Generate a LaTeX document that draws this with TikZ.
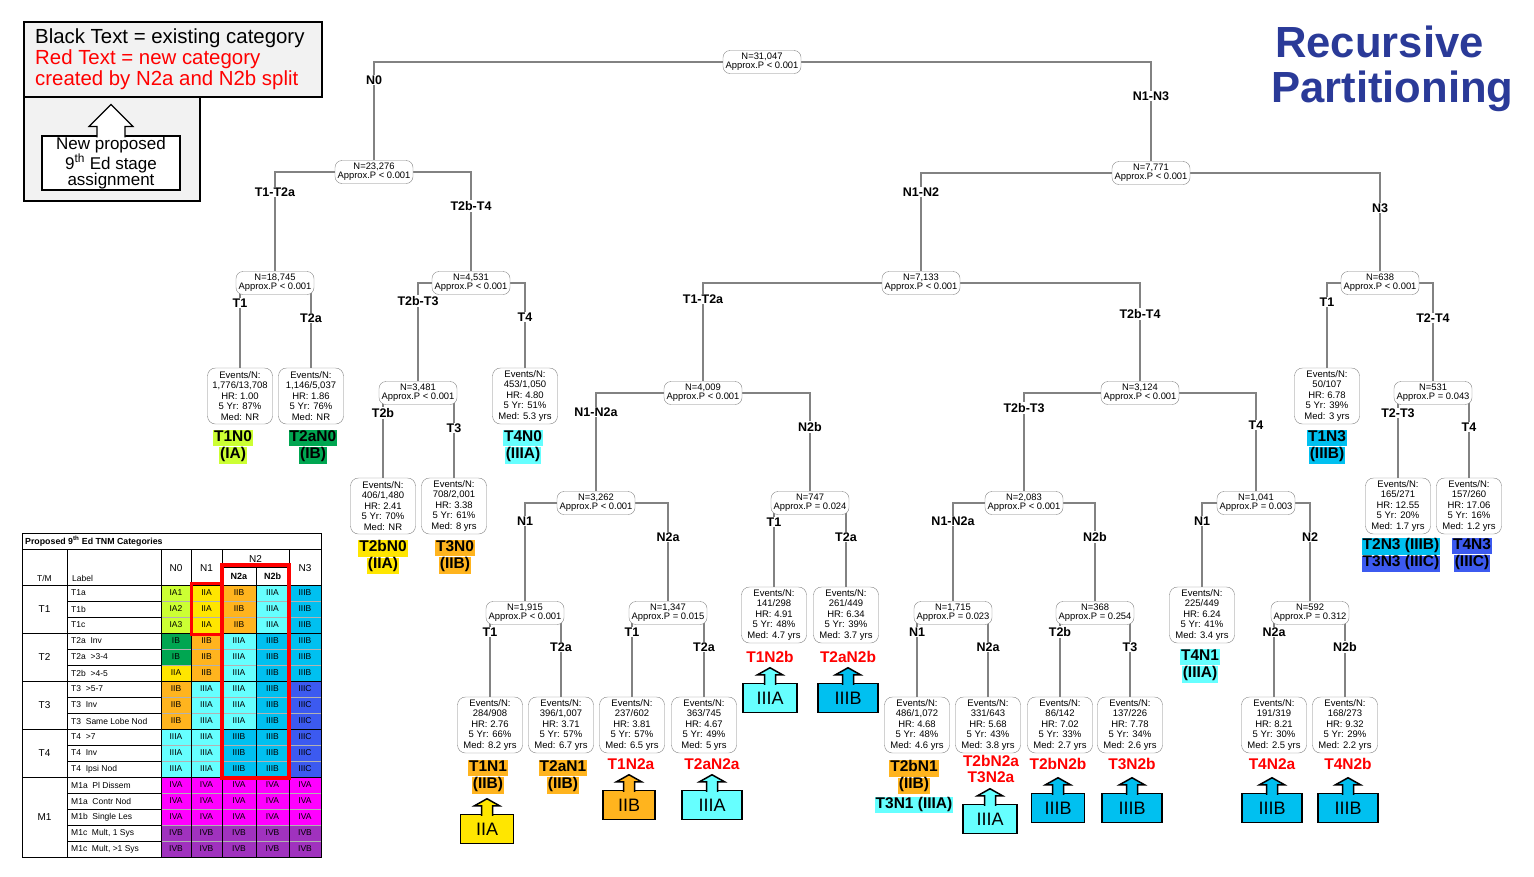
\documentclass[tikz,border=0pt]{standalone}
\usepackage{fontspec}
\setmainfont{Liberation Sans}
\usetikzlibrary{backgrounds,calc}

\definecolor{IA1}{RGB}{204,255,51}
\colorlet{IA2}{IA1}
\colorlet{IA3}{IA1}
\definecolor{IB}{RGB}{0,166,81}
\definecolor{IIA}{RGB}{255,230,0}
\definecolor{IIB}{RGB}{255,180,30}
\definecolor{IIIA}{RGB}{102,255,255}
\definecolor{IIIB}{RGB}{0,192,240}
\definecolor{IIIC}{RGB}{60,90,240}
\definecolor{IVA}{RGB}{255,0,255}
\definecolor{IVB}{RGB}{160,50,190}
\definecolor{titleblue}{RGB}{42,58,152}
\definecolor{edgegray}{RGB}{130,130,130}
\definecolor{keygray}{RGB}{242,242,242}

\setlength{\fboxsep}{0pt}
\newcommand{\stg}[2]{\colorbox{#1}{\kern1pt\strut #2\kern1pt}}

\tikzset{
  split/.style={draw=edgegray, fill=white, rounded corners=7pt, minimum width=78, minimum height=23,
    inner sep=1pt, align=center, font=\fontsize{9.4}{9.2}\selectfont},
  leaf/.style={draw=edgegray, fill=white, rounded corners=8pt, minimum width=65, minimum height=56,
    inner sep=1pt, align=center, font=\fontsize{9.5}{10.5}\selectfont},
  edge/.style={draw=edgegray, line width=1.1pt},
  branch/.style={fill=white, inner sep=1pt, font=\fontsize{12.5}{13}\selectfont\bfseries},
  stage/.style={inner sep=0pt, align=center, font=\fontsize{15.5}{16}\selectfont\bfseries},
  newstage/.style={stage, text=red},
  stagebox/.style={draw, line width=1.5pt, minimum height=29, inner sep=0pt, font=\fontsize{18}{18}\selectfont},
  keybox/.style={draw, line width=1.2pt, fill=keygray},
  cell/.style={draw=gray!60, line width=0.4pt, minimum height=16, inner sep=0pt, font=\fontsize{8.5}{8.5}\selectfont},
  tabtext/.style={inner sep=0pt, font=\fontsize{8.5}{8.5}\selectfont},
  tabhead/.style={inner sep=0pt, font=\fontsize{10}{10}\selectfont}
}

\begin{document}
\begin{tikzpicture}[x=1pt,y=-1pt]
  \useasboundingbox (0,0) rectangle (1534,876);

  % key
  \draw[keybox] (24,97) rectangle (200,201);
  \draw[keybox] (24,22) rectangle (322,97);
  \node[anchor=north west, inner sep=0pt, align=left, font=\fontsize{20.4}{21}\selectfont] (keytext) at (35,29)
    {Black Text = existing category\\\textcolor{red}{Red Text = new category}\\\textcolor{red}{created by N2a and N2b split}};
  \node[draw, line width=1.2pt, fill=white, minimum width=138, minimum height=54, inner sep=0pt, align=center,
    font=\fontsize{17}{16}\selectfont] (newbox) at (111,163) {New proposed\\9\textsuperscript{th} Ed stage\\assignment};
  \draw[line width=1.2pt, fill=white] ($(newbox.north)+(-14,2)$) -- ++(0,-11) -- ++(-8,0) -- ++(22,-22)
    -- ++(22,22) -- ++(-8,0) -- ++(0,11);

  % title
  \node[anchor=base west, inner sep=0pt, text=titleblue, font=\fontsize{43.6}{45}\selectfont\bfseries] (ttl1) at (1275,57) {Recursive};
  \node[anchor=base west, inner sep=0pt, text=titleblue, font=\fontsize{43.6}{45}\selectfont\bfseries] (ttl2) at (1271,102) {Partitioning};

  % table
  \node[anchor=west, tabtext, font=\fontsize{8.8}{8.8}\selectfont\bfseries] (tabtitle) at (25,541)
    {Proposed 9\textsuperscript{th} Ed TNM Categories};
  \foreach \lab/\a/\b/\c/\d/\e [count=\r] in {
    T1a/IA1/IIA/IIB/IIIA/IIIB,
    T1b/IA2/IIA/IIB/IIIA/IIIB,
    T1c/IA3/IIA/IIB/IIIA/IIIB,
    T2a~~Inv/IB/IIB/IIIA/IIIB/IIIB,
    T2a~~>3-4/IB/IIB/IIIA/IIIB/IIIB,
    T2b~~>4-5/IIA/IIB/IIIA/IIIB/IIIB,
    T3~~>5-7/IIB/IIIA/IIIA/IIIB/IIIC,
    T3~~Inv/IIB/IIIA/IIIA/IIIB/IIIC,
    T3~~Same Lobe Nod/IIB/IIIA/IIIA/IIIB/IIIC,
    T4~~>7/IIIA/IIIA/IIIB/IIIB/IIIC,
    T4~~Inv/IIIA/IIIA/IIIB/IIIB/IIIC,
    T4~~Ipsi Nod/IIIA/IIIA/IIIB/IIIB/IIIC,
    M1a~~Pl Dissem/IVA/IVA/IVA/IVA/IVA,
    M1a~~Contr Nod/IVA/IVA/IVA/IVA/IVA,
    M1b~~Single Les/IVA/IVA/IVA/IVA/IVA,
    {M1c~~Mult, 1 Sys}/IVB/IVB/IVB/IVB/IVB,
    {M1c~~Mult, >1 Sys}/IVB/IVB/IVB/IVB/IVB}
  {
    \node[tabtext, anchor=west] (lab\r) at (71,577+16*\r) {\lab};
    \node[cell, fill=\a, minimum width=30] (n0\r) at (176,577+16*\r) {\a};
    \node[cell, fill=\b, minimum width=31] (n1\r) at (206.5,577+16*\r) {\b};
    \node[cell, fill=\c, minimum width=34] (n2a\r) at (239,577+16*\r) {\c};
    \node[cell, fill=\d, minimum width=33] (n2b\r) at (272.5,577+16*\r) {\d};
    \node[cell, fill=\e, minimum width=32] (n3\r) at (305,577+16*\r) {\e};
    \draw[line width=0.4pt] (67,585+16*\r) -- (161,585+16*\r);
  }
  \draw[line width=0.8pt] (22,533) rectangle (321,857);
  \foreach \y in {549,585,633,681,729,777}
    \draw[line width=0.8pt] (22,\y) -- (321,\y);
  \foreach \x in {67,161,191,222,289}
    \draw[line width=0.6pt] (\x,549) -- (\x,857);
  \draw[line width=0.6pt] (256,567) -- (256,857);
  \draw[line width=0.6pt] (222,567) -- (289,567);
  \node[tabtext] (hTM) at (44.5,578) {T/M};
  \node[tabtext, anchor=west] (hlab) at (72,578) {Label};
  \node[tabhead] (hN0) at (176,568) {N0};
  \node[tabhead] (hN1) at (206.5,568) {N1};
  \node[tabhead] (hN2) at (255.5,559) {N2};
  \node[tabtext, font=\fontsize{9}{9}\selectfont\bfseries] (hN2a) at (239,576) {N2a};
  \node[tabtext, font=\fontsize{9}{9}\selectfont\bfseries] (hN2b) at (272.5,576) {N2b};
  \node[tabhead] (hN3) at (305,568) {N3};
  \foreach \g/\y in {T1/609, T2/657, T3/705, T4/753, M1/817}
    \node[tabhead] (g\g) at (44.5,\y) {\g};
  \draw[red, line width=3pt] (191,583) rectangle (222,634);
  \draw[red, line width=3.5pt] (222,565) rectangle (289,778);

  % splits
  \node[split] (s1) at (762,62) {N=31,047\\Approx.P < 0.001};
  \node[split] (s2) at (374,172) {N=23,276\\Approx.P < 0.001};
  \node[split] (s3) at (1151,173) {N=7,771\\Approx.P < 0.001};
  \node[split] (s4) at (275,283) {N=18,745\\Approx.P < 0.001};
  \node[split] (s5) at (471,283) {N=4,531\\Approx.P < 0.001};
  \node[split] (s6) at (418,393) {N=3,481\\Approx.P < 0.001};
  \node[split] (s7) at (921,283) {N=7,133\\Approx.P < 0.001};
  \node[split] (s8) at (1380,283) {N=638\\Approx.P < 0.001};
  \node[split] (s9) at (703,393) {N=4,009\\Approx.P < 0.001};
  \node[split] (s10) at (1140,393) {N=3,124\\Approx.P < 0.001};
  \node[split] (s11) at (1433,393) {N=531\\Approx.P = 0.043};
  \node[split] (s12) at (596,503) {N=3,262\\Approx.P < 0.001};
  \node[split] (s13) at (810,503) {N=747\\Approx.P = 0.024};
  \node[split] (s14) at (1024,503) {N=2,083\\Approx.P < 0.001};
  \node[split] (s15) at (1256,503) {N=1,041\\Approx.P = 0.003};
  \node[split] (s16) at (525,613) {N=1,915\\Approx.P < 0.001};
  \node[split] (s17) at (668,613) {N=1,347\\Approx.P = 0.015};
  \node[split] (s18) at (953,613) {N=1,715\\Approx.P = 0.023};
  \node[split] (s19) at (1095,613) {N=368\\Approx.P = 0.254};
  \node[split] (s20) at (1310,613) {N=592\\Approx.P = 0.312};

  % leaves
  \node[leaf] (l1) at (240,396) {Events/N:\\1,776/13,708\\HR: 1.00\\5 Yr: 87\%\\Med: NR};
  \node[leaf] (l2) at (311,396) {Events/N:\\1,146/5,037\\HR: 1.86\\5 Yr: 76\%\\Med: NR};
  \node[leaf] (l3) at (525,396) {Events/N:\\453/1,050\\HR: 4.80\\5 Yr: 51\%\\Med: 5.3 yrs};
  \node[leaf] (l4) at (383,506) {Events/N:\\406/1,480\\HR: 2.41\\5 Yr: 70\%\\Med: NR};
  \node[leaf] (l5) at (454,506) {Events/N:\\708/2,001\\HR: 3.38\\5 Yr: 61\%\\Med: 8 yrs};
  \node[leaf] (l6) at (490,725) {Events/N:\\284/908\\HR: 2.76\\5 Yr: 66\%\\Med: 8.2 yrs};
  \node[leaf] (l7) at (561,725) {Events/N:\\396/1,007\\HR: 3.71\\5 Yr: 57\%\\Med: 6.7 yrs};
  \node[leaf] (l8) at (632,725) {Events/N:\\237/602\\HR: 3.81\\5 Yr: 57\%\\Med: 6.5 yrs};
  \node[leaf] (l9) at (704,725) {Events/N:\\363/745\\HR: 4.67\\5 Yr: 49\%\\Med: 5 yrs};
  \node[leaf] (l10) at (774,615) {Events/N:\\141/298\\HR: 4.91\\5 Yr: 48\%\\Med: 4.7 yrs};
  \node[leaf] (l11) at (846,615) {Events/N:\\261/449\\HR: 6.34\\5 Yr: 39\%\\Med: 3.7 yrs};
  \node[leaf] (l12) at (917,725) {Events/N:\\486/1,072\\HR: 4.68\\5 Yr: 48\%\\Med: 4.6 yrs};
  \node[leaf] (l13) at (988,725) {Events/N:\\331/643\\HR: 5.68\\5 Yr: 43\%\\Med: 3.8 yrs};
  \node[leaf] (l14) at (1060,725) {Events/N:\\86/142\\HR: 7.02\\5 Yr: 33\%\\Med: 2.7 yrs};
  \node[leaf] (l15) at (1130,725) {Events/N:\\137/226\\HR: 7.78\\5 Yr: 34\%\\Med: 2.6 yrs};
  \node[leaf] (l16) at (1202,615) {Events/N:\\225/449\\HR: 6.24\\5 Yr: 41\%\\Med: 3.4 yrs};
  \node[leaf] (l17) at (1274,725) {Events/N:\\191/319\\HR: 8.21\\5 Yr: 30\%\\Med: 2.5 yrs};
  \node[leaf] (l18) at (1345,725) {Events/N:\\168/273\\HR: 9.32\\5 Yr: 29\%\\Med: 2.2 yrs};
  \node[leaf] (l19) at (1327,396) {Events/N:\\50/107\\HR: 6.78\\5 Yr: 39\%\\Med: 3 yrs};
  \node[leaf] (l20) at (1398,506) {Events/N:\\165/271\\HR: 12.55\\5 Yr: 20\%\\Med: 1.7 yrs};
  \node[leaf] (l21) at (1469,506) {Events/N:\\157/260\\HR: 17.06\\5 Yr: 16\%\\Med: 1.2 yrs};

  % branches
  \foreach \from/\to/\lab/\ly in {
    s1/s2/N0/80, s1/s3/N1-N3/96,
    s2/s4/T1-T2a/192, s2/s5/T2b-T4/206,
    s4/l1/T1/303, s4/l2/T2a/318,
    s5/s6/T2b-T3/301, s5/l3/T4/317,
    s6/l4/T2b/413, s6/l5/T3/428,
    s3/s7/N1-N2/192, s3/s8/N3/208,
    s7/s9/T1-T2a/299, s7/s10/T2b-T4/314,
    s9/s12/N1-N2a/412, s9/s13/N2b/427,
    s12/s16/N1/521, s12/s17/N2a/537,
    s16/l6/T1/632, s16/l7/T2a/647,
    s17/l8/T1/632, s17/l9/T2a/647,
    s13/l10/T1/522, s13/l11/T2a/537,
    s10/s14/T2b-T3/408, s10/s15/T4/425,
    s14/s18/N1-N2a/521, s14/s19/N2b/537,
    s18/l12/N1/632, s18/l13/N2a/647,
    s19/l14/T2b/632, s19/l15/T3/647,
    s15/l16/N1/521, s15/s20/N2/537,
    s20/l17/N2a/632, s20/l18/N2b/647,
    s8/l19/T1/302, s8/s11/T2-T4/318,
    s11/l20/T2-T3/413, s11/l21/T4/427}
  {
    \begin{pgfonlayer}{background}
      \draw[edge] (\from) -| (\to);
    \end{pgfonlayer}
    \node[branch] (b\to) at (\to |- 0,\ly) {\lab};
  }

  % stages
  \node[stage] (t1n0) at (233,447) {\stg{IA1}{T1N0}\\\stg{IA1}{(IA)}};
  \node[stage] (t2an0) at (313,447) {\stg{IB}{T2aN0}\\\stg{IB}{(IB)}};
  \node[stage] (t4n0) at (523,447) {\stg{IIIA}{T4N0}\\\stg{IIIA}{(IIIA)}};
  \node[stage] (t2bn0) at (383,557) {\stg{IIA}{T2bN0}\\\stg{IIA}{(IIA)}};
  \node[stage] (t3n0) at (455,557) {\stg{IIB}{T3N0}\\\stg{IIB}{(IIB)}};
  \node[stage] (t1n1) at (488,777) {\stg{IIB}{T1N1}\\\stg{IIB}{(IIB)}};
  \node[stage] (t2an1) at (563,777) {\stg{IIB}{T2aN1}\\\stg{IIB}{(IIB)}};
  \node[stage] (t2bn1) at (914,777) {\stg{IIB}{T2bN1}\\\stg{IIB}{(IIB)}};
  \node[stage] (t3n1) at (914,805) {\stg{IIIA}{T3N1 (IIIA)}};
  \node[stage] (t4n1) at (1200,666) {\stg{IIIA}{T4N1}\\\stg{IIIA}{(IIIA)}};
  \node[stage] (t1n3) at (1327,447) {\stg{IIIB}{T1N3}\\\stg{IIIB}{(IIIB)}};
  \node[stage] (t2n3) at (1401,555) {\stg{IIIB}{T2N3 (IIIB)}\\\stg{IIIC}{T3N3 (IIIC)}};
  \node[stage] (t4n3) at (1472,555) {\stg{IIIC}{T4N3}\\\stg{IIIC}{(IIIC)}};

  \node[newstage] (t1n2a) at (631,764) {T1N2a};
  \node[newstage] (t2an2a) at (712,764) {T2aN2a};
  \node[newstage] (t1n2b) at (770,657) {T1N2b};
  \node[newstage] (t2an2b) at (848,657) {T2aN2b};
  \node[newstage] (t2bn2a) at (991,769) {T2bN2a\\T3N2a};
  \node[newstage] (t2bn2b) at (1058,764) {T2bN2b};
  \node[newstage] (t3n2b) at (1132,764) {T3N2b};
  \node[newstage] (t4n2a) at (1272,764) {T4N2a};
  \node[newstage] (t4n2b) at (1348,764) {T4N2b};

  % new stage boxes
  \foreach \x/\y/\c/\w in {487/829/IIA/53, 629/805/IIB/52, 712/805/IIIA/60, 770/698/IIIA/54,
    848/698/IIIB/60, 990/819/IIIA/54, 1058/808/IIIB/53, 1132/808/IIIB/60, 1272/808/IIIB/60, 1348/808/IIIB/60}
  {
    \node[stagebox, fill=\c, minimum width=\w] (box\x) at (\x,\y) {\c};
    \draw[line width=1.5pt, fill=\c] ($(box\x.north)+(-5.5,2)$) -- ++(0,-10) -- ++(-7,0) -- ++(12.5,-7)
      -- ++(12.5,7) -- ++(-7,0) -- ++(0,10);
  }

\end{tikzpicture}
\end{document}
